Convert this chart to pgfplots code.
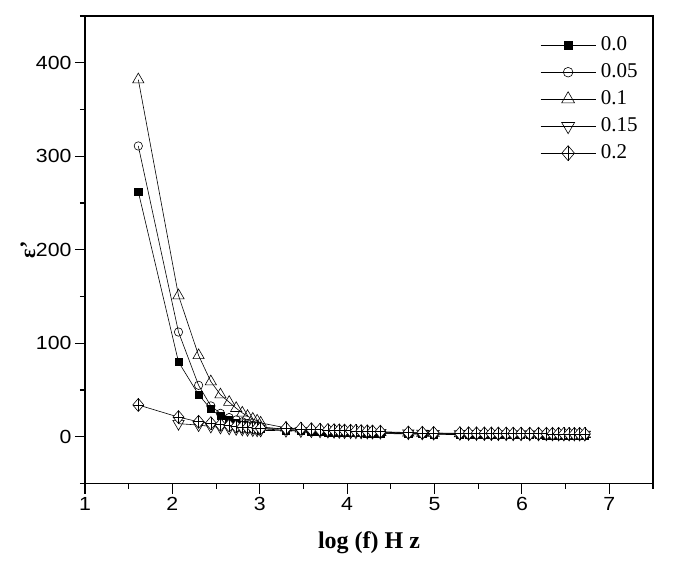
\documentclass[border=0pt]{standalone}
\usepackage{pgfplots}
\pgfplotsset{compat=1.18}
\usepackage{fontspec}
\setmainfont{Liberation Serif}
\newfontfamily\ticksf[FakeStretch=1.12]{Liberation Sans}

\pgfdeclareplotmark{diamondplus}{%
  \pgfpathmoveto{\pgfqpoint{0pt}{\pgfplotmarksize}}%
  \pgfpathlineto{\pgfqpoint{.85\pgfplotmarksize}{0pt}}%
  \pgfpathlineto{\pgfqpoint{0pt}{-\pgfplotmarksize}}%
  \pgfpathlineto{\pgfqpoint{-.85\pgfplotmarksize}{0pt}}%
  \pgfpathclose
  \pgfusepathqfillstroke
  \pgfpathmoveto{\pgfqpoint{0pt}{\pgfplotmarksize}}%
  \pgfpathlineto{\pgfqpoint{0pt}{-\pgfplotmarksize}}%
  \pgfpathmoveto{\pgfqpoint{.85\pgfplotmarksize}{0pt}}%
  \pgfpathlineto{\pgfqpoint{-.85\pgfplotmarksize}{0pt}}%
  \pgfusepathqstroke
}

\begin{document}
\begin{tikzpicture}
\useasboundingbox (-85bp,-77.5bp) rectangle (600bp,483.5bp);
\begin{axis}[
  at={(0,0)}, anchor=south west,
  scale only axis, width=568bp, height=467.5bp,
  xmin=1, xmax=7.5, ymin=-50, ymax=450,
  xtick={1,2,...,7}, ytick={0,100,...,400},
  minor xtick={1.5,2.5,...,7.5}, minor ytick={-50,50,150,250,350,450},
  tick align=outside, tick pos=left,
  major tick length=10bp, minor tick length=5bp,
  every tick/.style={black, line width=1.1bp},
  axis line style={line width=1.3bp},
  /pgf/number format/assume math mode=true,
  ticklabel style={font=\ticksf\fontsize{19bp}{19bp}\selectfont},
  xlabel={log (f) H z}, ylabel={ε'},
  xlabel style={font=\bfseries\fontsize{24bp}{24bp}\selectfont, at={(axis description cs:0.5,0)}, anchor=base, yshift=-64.5bp},
  ylabel style={font=\bfseries\fontsize{22bp}{22bp}\selectfont, at={([xshift=-57bp]axis description cs:0,0.5)}, anchor=center},
  legend cell align=left,
  legend style={draw=none, fill=none, at={(axis description cs:0.796,1)}, anchor=north west,
    yshift=-18bp, font=\fontsize{21bp}{21bp}\selectfont, row sep=9bp, column sep=5bp,
    nodes={inner sep=0pt, text height=14bp, text depth=4bp}},
  legend image code/.code={\draw[mark repeat=2,mark phase=2,every mark/.append style={scale=1.15}] plot coordinates {(0bp,0bp) (27.5bp,0bp) (55bp,0bp)};},
  every axis plot/.append style={black, line width=0.6bp, mark options={solid, line width=0.8bp}},
  extra description/.code={\draw[line width=1.3bp] (rel axis cs:0,1) -- (rel axis cs:1,1) -- (rel axis cs:1,0);},
]
% 0.0
\addplot[mark=square*, mark size=3.6bp, mark options={fill=black}] coordinates {
(1.61,262) (2.07,80) (2.30,45) (2.44,29.6) (2.55,22) (2.65,17.5) (2.73,14.5) (2.80,12.5) (2.86,11) (2.92,10) (2.97,9) (3.01,8.5)
(3.30,7) (3.47,6) (3.59,5.5) (3.69,5) (3.78,4.8) (3.85,4.6) (3.91,4.4) (3.97,4.2) (4.04,4) (4.10,3.9) (4.16,3.8) (4.23,3.7) (4.29,3.6) (4.38,3.5)
(4.70,3.0) (4.86,2.8) (4.99,2.6)
(5.29,2.3) (5.39,2.2) (5.48,2.1) (5.57,2.0) (5.65,2.0) (5.73,1.9) (5.82,1.9) (5.90,1.8) (5.99,1.8) (6.09,1.7) (6.19,1.7) (6.28,1.6) (6.35,1.6) (6.42,1.6) (6.48,1.5) (6.54,1.5) (6.60,1.5) (6.66,1.5) (6.72,1.4)
};
\addlegendentry{0.0}
% 0.05
\addplot[mark=o, mark size=4.2bp, mark options={fill=white}] coordinates {
(1.61,311) (2.07,112) (2.30,55) (2.44,33) (2.55,25) (2.65,20.5) (2.73,18) (2.80,16) (2.86,14) (2.92,12.5) (2.97,11.5) (3.01,10.5)
(3.30,8) (3.47,7) (3.59,6.5) (3.69,6) (3.78,5.6) (3.85,5.3) (3.91,5) (3.97,4.8) (4.04,4.6) (4.10,4.4) (4.16,4.2) (4.23,4.1) (4.29,4) (4.38,3.8)
(4.70,3.3) (4.86,3.1) (4.99,3.0)
(5.29,2.7) (5.39,2.6) (5.48,2.5) (5.57,2.4) (5.65,2.4) (5.73,2.3) (5.82,2.3) (5.90,2.2) (5.99,2.2) (6.09,2.1) (6.19,2.1) (6.28,2.0) (6.35,2.0) (6.42,2.0) (6.48,1.9) (6.54,1.9) (6.60,1.9) (6.66,1.9) (6.72,1.8)
};
\addlegendentry{0.05}
% 0.1
\addplot[mark=triangle, mark size=6.5bp, mark options={fill=white}] coordinates {
(1.61,382) (2.07,151) (2.30,87) (2.44,59) (2.55,45) (2.65,37) (2.73,30.5) (2.80,25.5) (2.86,22) (2.92,19) (2.97,17) (3.01,14.8)
(3.30,9.5) (3.47,8.5) (3.59,7.8) (3.69,7.2) (3.78,6.8) (3.85,6.5) (3.91,6.2) (3.97,6.0) (4.04,5.8) (4.10,5.6) (4.16,5.4) (4.23,5.2) (4.29,5.0) (4.38,4.8)
(4.70,4.2) (4.86,4.0) (4.99,3.8)
(5.29,3.5) (5.39,3.4) (5.48,3.3) (5.57,3.3) (5.65,3.2) (5.73,3.2) (5.82,3.1) (5.90,3.1) (5.99,3.0) (6.09,3.0) (6.19,3.0) (6.28,2.9) (6.35,2.9) (6.42,2.9) (6.48,2.8) (6.54,2.8) (6.60,2.8) (6.66,2.8) (6.72,2.7)
};
\addlegendentry{0.1}
% 0.15
\addplot[mark=triangle, mark size=6.5bp, mark options={fill=white, rotate=180}] coordinates {
(2.07,14) (2.30,12.5) (2.44,11) (2.55,10) (2.65,9) (2.73,8.5) (2.80,8) (2.86,7.5) (2.92,7.2) (2.97,7) (3.01,6.8)
(3.30,6.5) (3.47,6.2) (3.59,6) (3.69,5.8) (3.78,5.6) (3.85,5.4) (3.91,5.2) (3.97,5.0) (4.04,4.9) (4.10,4.8) (4.16,4.7) (4.23,4.6) (4.29,4.5) (4.38,4.4)
(4.70,3.8) (4.86,3.6) (4.99,3.4)
(5.29,3.1) (5.39,3.0) (5.48,3.0) (5.57,2.9) (5.65,2.9) (5.73,2.8) (5.82,2.8) (5.90,2.7) (5.99,2.7) (6.09,2.7) (6.19,2.6) (6.28,2.6) (6.35,2.6) (6.42,2.5) (6.48,2.5) (6.54,2.5) (6.60,2.5) (6.66,2.4) (6.72,2.4)
};
\addlegendentry{0.15}
% 0.2
\addplot[mark=diamondplus, mark size=6.5bp, mark options={fill=white}] coordinates {
(1.61,34) (2.07,21) (2.30,16) (2.44,14.5) (2.55,12.8) (2.65,12) (2.73,11) (2.80,10.5) (2.86,10) (2.92,9.6) (2.97,9.3) (3.01,9)
(3.30,9) (3.47,8.5) (3.59,8) (3.69,7.5) (3.78,7.2) (3.85,7) (3.91,6.8) (3.97,6.6) (4.04,6.4) (4.10,6.2) (4.16,6) (4.23,5.8) (4.29,5.6) (4.38,5.4)
(4.70,4.5) (4.86,4.2) (4.99,4.0)
(5.29,3.8) (5.39,3.7) (5.48,3.6) (5.57,3.5) (5.65,3.5) (5.73,3.4) (5.82,3.4) (5.90,3.3) (5.99,3.3) (6.09,3.2) (6.19,3.2) (6.28,3.2) (6.35,3.1) (6.42,3.1) (6.48,3.1) (6.54,3.0) (6.60,3.0) (6.66,3.0) (6.72,3.0)
};
\addlegendentry{0.2}
\end{axis}
\end{tikzpicture}
\end{document}
